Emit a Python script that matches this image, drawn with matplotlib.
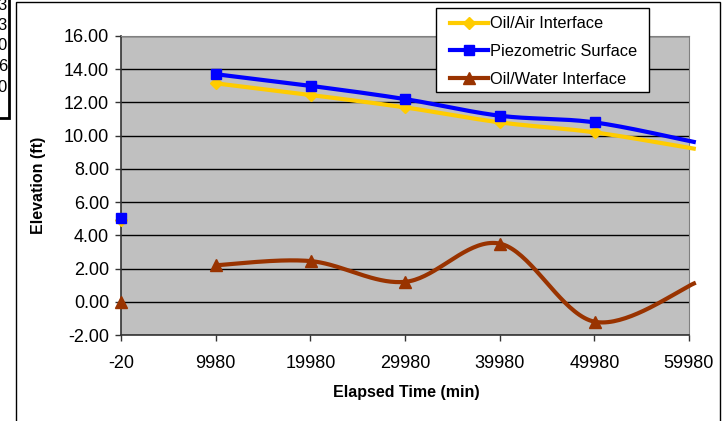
import numpy as np
import matplotlib
matplotlib.use('Agg')
import matplotlib.pyplot as plt
from matplotlib.lines import Line2D
from matplotlib.patches import Rectangle

plt.rcParams['font.family'] = ['Liberation Sans', 'DejaVu Sans']

# elapsed time (min); nan marks the break in the lines, last point lies just past the axis
elapsed = [0, np.nan, 10000, 20000, 30000, 40000, 50000, 60700]
oil_air = [4.9, np.nan, 13.15, 12.45, 11.7, 10.8, 10.2, 9.2]
piezometric = [5.05, np.nan, 13.7, 13.0, 12.2, 11.2, 10.8, 9.6]
oil_water = [0.0, np.nan, 2.2, 2.45, 1.2, 3.5, -1.2, 1.15]
tick_labels = ['-20', '9980', '19980', '29980', '39980', '49980', '59980']
tick_pos = [-20, 9980, 19980, 29980, 39980, 49980, 59980]
table_tail = ['3', '3', '0', '6', '0']

series = [
    ('Oil/Air Interface', oil_air, '#FFCC00', 'D', 6),
    ('Piezometric Surface', piezometric, '#0000FF', 's', 7),
    ('Oil/Water Interface', oil_water, '#993300', '^', 8.5),
]


def smooth(x, y, n=40):
    # bezier smoothing like a spreadsheet "smoothed line"
    p = np.column_stack([x, y])
    out = [p[:1]]
    for i in range(len(p) - 1):
        p0 = p[max(i - 1, 0)]
        p1, p2 = p[i], p[i + 1]
        p3 = p[min(i + 2, len(p) - 1)]
        b1 = p1 + (p2 - p0) / 6
        b2 = p2 - (p3 - p1) / 6
        t = np.linspace(0, 1, n)[1:, None]
        out.append((1 - t) ** 3 * p1 + 3 * (1 - t) ** 2 * t * b1 + 3 * (1 - t) * t ** 2 * b2 + t ** 3 * p2)
    c = np.vstack(out)
    return c[:, 0], c[:, 1]


fig = plt.figure(figsize=(7.23, 4.21), dpi=100)
W, H = 723, 421
ax = fig.add_axes([121 / W, 1 - 335 / H, (689 - 121) / W, (335 - 36) / H])
ax.set_facecolor('#C0C0C0')

t = np.array(elapsed, dtype=float)
xmax = 59980
handles = []
for name, vals, col, mk, ms in series:
    v = np.array(vals, dtype=float)
    breaks = np.where(np.isnan(v))[0]
    for seg in np.split(np.arange(len(v)), breaks):
        seg = seg[~np.isnan(v[seg])]
        if len(seg) > 1:
            sx, sy = smooth(t[seg], v[seg])
            ax.plot(sx, sy, color=col, lw=3, clip_on=False, solid_capstyle='butt', zorder=3)
    vis = (~np.isnan(v)) & (t <= xmax)
    ax.plot(t[vis], v[vis], ls='none', marker=mk, ms=ms, color=col, clip_on=False, zorder=4)
    handles.append(Line2D([], [], color=col, lw=3, marker=mk, ms=ms))

ax.set_xlim(-20, xmax)
ax.set_ylim(-2, 16)
ax.set_xticks(tick_pos)
ax.set_xticklabels(tick_labels)
ax.set_yticks(np.arange(-2, 17, 2))
ax.set_yticklabels([f'{v:.2f}' for v in np.arange(-2, 17, 2)])
ax.yaxis.grid(True, color='black', lw=1)
ax.set_axisbelow(True)
ax.tick_params(labelsize=13, direction='out', length=4.5, width=1, color='#333333')
ax.tick_params(axis='x', pad=10)
ax.tick_params(axis='y', pad=4)
for s in ['top', 'right']:
    ax.spines[s].set_color('#808080')
for s in ['left', 'bottom']:
    ax.spines[s].set_color('#333333')
    ax.spines[s].set_linewidth(1.2)

fig.text(406 / W, 1 - 392 / H, 'Elapsed Time (min)', fontsize=11.5, fontweight='bold',
         ha='center', va='center')
fig.text(38 / W, 1 - 185 / H, 'Elevation (ft)', fontsize=11.5, fontweight='bold',
         ha='center', va='center', rotation=90)

# legend box drawn separately so its padding can match
ax.add_patch(Rectangle((436 / W, 1 - 92 / H), (649 - 436) / W, 84 / H,
                       transform=fig.transFigure, fc='white', ec='black', lw=1,
                       clip_on=False, zorder=5))
leg = ax.legend(handles, [s[0] for s in series], loc='upper left',
                bbox_to_anchor=(450 / W, 1 - 16.5 / H), bbox_transform=fig.transFigure,
                fontsize=11.8, frameon=False, borderaxespad=0, borderpad=0,
                handlelength=2.3, handletextpad=0.12, labelspacing=0.77, numpoints=1)
leg.set_zorder(6)

# chart area frame and the edge of the table beside it
fig.patches.append(Rectangle((16 / W, -0.1), (720 - 16) / W, 1.1 - 2 / H,
                             transform=fig.transFigure, fill=False, ec='black', lw=1))
fig.patches.append(Rectangle((-0.1, 1 - 118 / H), 0.1 + 9 / W, 0.5,
                             transform=fig.transFigure, fill=False, ec='black', lw=2))
for i, txt in enumerate(table_tail):
    fig.text(7 / W, 1 - (5 + 20.5 * i) / H, txt, fontsize=12, ha='right', va='center')

fig.savefig('out.png', dpi=100)
